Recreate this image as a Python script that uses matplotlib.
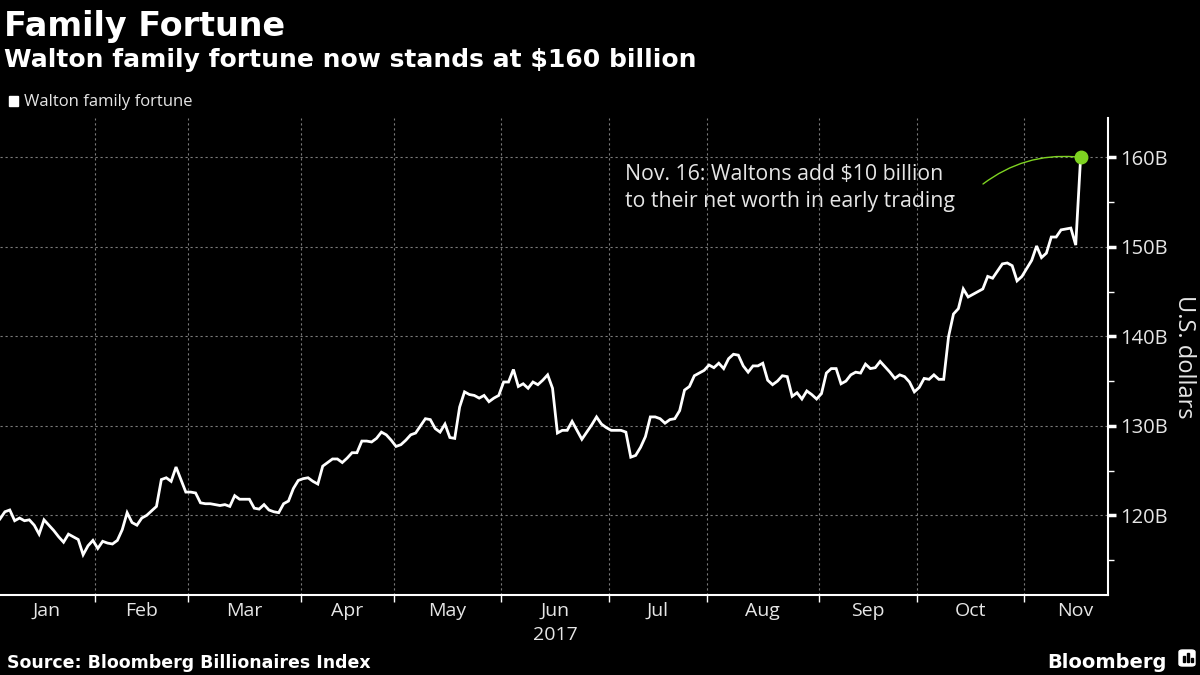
import numpy as np
import pandas as pd
import matplotlib
matplotlib.use('Agg')
import matplotlib.pyplot as plt
from matplotlib.patches import Rectangle, FancyBboxPatch

# NYSE trading days 2017 (Jan 3 .. Nov 30), data runs to Nov 16
holidays = ['2017-01-02', '2017-01-16', '2017-02-20', '2017-04-14',
            '2017-05-29', '2017-07-04', '2017-09-04', '2017-11-23']
cal = pd.bdate_range('2017-01-03', '2017-11-30')
cal = cal[~cal.isin(pd.to_datetime(holidays))]
dates = cal[cal <= '2017-11-16']

# Walton family fortune, $ billions
fortune = [
    119.6, 120.4, 120.6, 119.4, 119.7, 119.4, 119.5, 118.9, 117.9, 119.5,
    118.9, 118.3, 117.6, 117.0, 117.9, 117.6, 117.3, 115.6, 116.6, 117.2,
    116.3, 117.1, 116.9, 116.8, 117.2, 118.4, 120.3, 119.2, 118.9, 119.7,
    120.0, 120.5, 121.0, 124.0, 124.2, 123.8, 125.4, 124.0, 122.6, 122.6,
    122.5, 121.4, 121.3, 121.3, 121.2, 121.1, 121.2, 121.0, 122.2, 121.8,
    121.8, 121.8, 120.8, 120.7, 121.2, 120.6, 120.4, 120.3, 121.3, 121.6,
    123.0, 123.9, 124.1, 124.2, 123.8, 123.5, 125.5, 125.9, 126.3, 126.3,
    125.9, 126.4, 127.0, 127.0, 128.3, 128.3, 128.2, 128.6, 129.3, 129.0,
    128.4, 127.7, 127.9, 128.4, 129.0, 129.2, 130.0, 130.8, 130.7, 129.7,
    129.3, 130.2, 128.7, 128.6, 132.1, 133.8, 133.5, 133.4, 133.1, 133.4,
    132.7, 133.1, 133.4, 134.9, 134.9, 136.3, 134.4, 134.7, 134.2, 134.9,
    134.6, 135.1, 135.7, 134.2, 129.2, 129.5, 129.5, 130.5, 129.5, 128.5,
    129.3, 130.1, 131.0, 130.2, 129.8, 129.5, 129.5, 129.5, 129.3, 126.5,
    126.7, 127.6, 128.8, 131.0, 131.0, 130.8, 130.3, 130.7, 130.8, 131.7,
    134.0, 134.4, 135.6, 135.9, 136.2, 136.8, 136.5, 137.0, 136.4, 137.5,
    138.0, 137.9, 136.7, 136.0, 136.7, 136.7, 137.0, 135.1, 134.6, 135.0,
    135.6, 135.5, 133.3, 133.7, 133.0, 133.9, 133.5, 133.0, 133.6, 135.9,
    136.4, 136.4, 134.7, 135.0, 135.7, 136.0, 135.9, 136.9, 136.4, 136.5,
    137.2, 136.6, 136.0, 135.3, 135.7, 135.5, 134.9, 133.8, 134.3, 135.3,
    135.2, 135.7, 135.2, 135.2, 140.0, 142.5, 143.1, 145.3, 144.4, 144.7,
    145.0, 145.3, 146.7, 146.5, 147.3, 148.1, 148.2, 147.9, 146.2, 146.7,
    147.6, 148.5, 150.1, 148.8, 149.3, 151.1, 151.1, 151.9, 152.0, 152.1,
    150.2, 160.0,
]
fortune = fortune[:len(dates)]

month_labels = ['Jan', 'Feb', 'Mar', 'Apr', 'May', 'Jun\n2017', 'Jul',
                'Aug', 'Sep', 'Oct', 'Nov']
y_ticks = [120, 130, 140, 150, 160]
y_minor = [115, 125, 135, 145, 155]

GRID = '#7a7a7a'
TXT = '#e6e6e6'
GREEN = '#7ed321'
REG = ['Open Sans', 'DejaVu Sans']
BOLD = ['DejaVu Sans']

# month spans in trading-day index
mon = cal.month.values
starts = [0] + [i for i in range(1, len(mon)) if mon[i] != mon[i - 1]]
ends = starts[1:] + [len(mon)]
bounds = [s - 0.5 for s in starts[1:]]
centers = [(s + e - 1) / 2 for s, e in zip(starts, ends)]

fig = plt.figure(figsize=(12, 6.75), dpi=100, facecolor='black')
ax = fig.add_axes([0, 1 - 595 / 675, 1108 / 1200, (595 - 118) / 675])
ax.set_facecolor('black')

x = np.arange(len(fortune))
ax.plot(x, fortune, color='white', lw=2, solid_joinstyle='miter', zorder=3)
ax.plot(x[-1], fortune[-1], 'o', color=GREEN, ms=9, zorder=4)

ax.set_xlim(0, 226.6)
ax.set_ylim(111.1, 164.4)

ax.set_xticks(bounds)
ax.set_xticklabels([])
ax.set_xticks(centers, minor=True)
ax.set_xticklabels(month_labels, minor=True, fontfamily=REG)
for lab in ax.get_xticklabels(minor=True):
    lab.set_linespacing(1.45)
ax.tick_params(axis='x', which='major', length=5, width=1, color='white', direction='out')
ax.tick_params(axis='x', which='minor', length=0, pad=5, labelsize=14, labelcolor=TXT)

ax.yaxis.tick_right()
ax.yaxis.set_label_position('right')
ax.set_yticks(y_ticks)
ax.set_yticklabels([f'{v}B' for v in y_ticks], fontfamily=REG)
ax.set_yticks(y_minor, minor=True)
ax.tick_params(axis='y', which='major', length=6, width=2.5, color='white',
               direction='out', pad=3, labelsize=14.5, labelcolor=TXT)
ax.tick_params(axis='y', which='minor', length=4, width=1, color='white', direction='out')
ax.set_ylabel('U.S. dollars', rotation=270, labelpad=20, fontsize=17,
              color=TXT, fontfamily=REG)

ax.grid(axis='x', which='major', color=GRID, lw=0.8, ls=(0, (2, 2.5)))
ax.grid(axis='y', which='major', color=GRID, lw=0.8, ls=(0, (2, 2.5)))

for s in ['left', 'top']:
    ax.spines[s].set_visible(False)
for s in ['bottom', 'right']:
    ax.spines[s].set_color('white')
    ax.spines[s].set_linewidth(1.5)

# annotation
fig.text(625 / 1200, 1 - 180 / 675, 'Nov. 16: Waltons add $10 billion',
         fontsize=15.3, color=TXT, fontfamily=REG, va='baseline')
fig.text(625 / 1200, 1 - 207 / 675, 'to their net worth in early trading',
         fontsize=15.3, color=TXT, fontfamily=REG, va='baseline')
ax.annotate('', xy=(x[-1], fortune[-1]), xycoords='data',
            xytext=(983, 675 - 184), textcoords='figure pixels',
            arrowprops=dict(arrowstyle='-', color=GREEN, lw=1,
                            connectionstyle='arc3,rad=-0.2',
                            shrinkA=0, shrinkB=4))

# titles
fig.text(4 / 1200, 1 - 36 / 675, 'Family Fortune', fontsize=24, fontweight='bold',
         color='white', fontfamily=BOLD, va='baseline')
fig.text(4 / 1200, 1 - 67 / 675, 'Walton family fortune now stands at $160 billion',
         fontsize=18, fontweight='bold', color='white', fontfamily=BOLD, va='baseline')

# legend
fig.patches.append(Rectangle((9 / 1200, 1 - 106 / 675), 9 / 1200, 10 / 675,
                             transform=fig.transFigure, color='white'))
fig.text(24 / 1200, 1 - 106 / 675, 'Walton family fortune', fontsize=12,
         color=TXT, fontfamily=REG, va='baseline')

# footer
fig.text(7 / 1200, 1 - 668 / 675, 'Source: Bloomberg Billionaires Index',
         fontsize=12.5, fontweight='bold', color='white', fontfamily=BOLD, va='baseline')
fig.text(1167 / 1200, 1 - 668 / 675, 'Bloomberg', fontsize=14, fontweight='bold',
         color='white', fontfamily=BOLD, ha='right', va='baseline')
fig.patches.append(FancyBboxPatch((1179 / 1200, 1 - 666 / 675), 16 / 1200, 16 / 675,
                                  boxstyle='round,pad=0,rounding_size=0.003',
                                  transform=fig.transFigure, color='white'))
for bx, bh in [(1183, 6), (1187, 9), (1191, 4)]:
    fig.patches.append(Rectangle((bx / 1200, 1 - 662 / 675), 2 / 1200, bh / 675,
                                 transform=fig.transFigure, color='black'))

fig.savefig('out.png', dpi=100, facecolor='black')
